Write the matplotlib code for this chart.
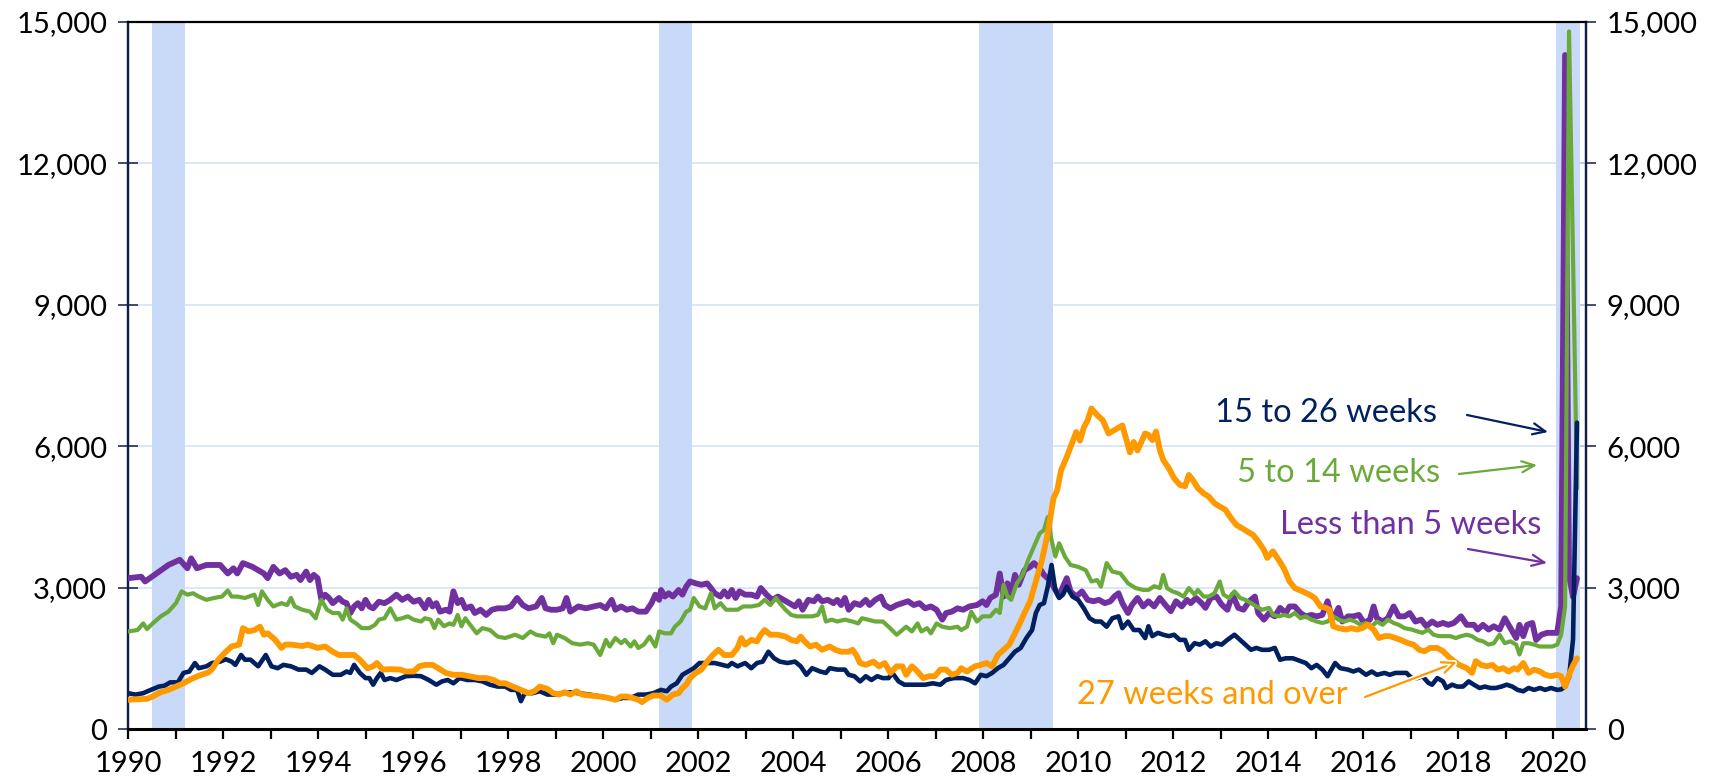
"""
Unemployed persons by duration of unemployment, 1990-2020 (thousands)
"""

import matplotlib
matplotlib.use("Agg")
import matplotlib.pyplot as plt
from matplotlib import patheffects

plt.rcParams["font.family"] = ["Lato", "DejaVu Sans"]

# (year, thousands)
less_than_5 = [
    (1990.0, 3200), (1990.28, 3230), (1990.36, 3130), (1990.6, 3300), (1990.85, 3480),
    (1991.09, 3590), (1991.25, 3410), (1991.33, 3620), (1991.45, 3410), (1991.65, 3480),
    (1991.94, 3480), (1992.1, 3300), (1992.22, 3410), (1992.3, 3300), (1992.42, 3520),
    (1992.62, 3440), (1992.86, 3300), (1992.94, 3200), (1993.06, 3440), (1993.19, 3300),
    (1993.31, 3370), (1993.43, 3230), (1993.55, 3270), (1993.63, 3160), (1993.75, 3340),
    (1993.83, 3160), (1993.91, 3270), (1993.99, 3200), (1994.07, 2740), (1994.15, 2850),
    (1994.23, 2780), (1994.31, 2670), (1994.44, 2780), (1994.52, 2700), (1994.6, 2670),
    (1994.68, 2460), (1994.76, 2600), (1994.84, 2670), (1994.92, 2560), (1995.0, 2740),
    (1995.08, 2600), (1995.16, 2560), (1995.28, 2700), (1995.4, 2670), (1995.52, 2740),
    (1995.65, 2850), (1995.77, 2740), (1995.89, 2810), (1996.01, 2700), (1996.13, 2740),
    (1996.25, 2560), (1996.33, 2740), (1996.41, 2600), (1996.49, 2670), (1996.57, 2490),
    (1996.69, 2530), (1996.77, 2490), (1996.85, 2920), (1996.94, 2670), (1997.02, 2740),
    (1997.1, 2560), (1997.22, 2600), (1997.3, 2460), (1997.42, 2530), (1997.54, 2420),
    (1997.66, 2530), (1997.78, 2560), (1997.94, 2560), (1998.06, 2600), (1998.19, 2780),
    (1998.31, 2630), (1998.43, 2560), (1998.59, 2600), (1998.71, 2780), (1998.79, 2560),
    (1998.91, 2530), (1999.03, 2530), (1999.15, 2560), (1999.23, 2780), (1999.31, 2490),
    (1999.48, 2600), (1999.64, 2560), (1999.8, 2600), (1999.94, 2630), (2000.06, 2560),
    (2000.18, 2740), (2000.26, 2530), (2000.38, 2600), (2000.5, 2530), (2000.62, 2560),
    (2000.74, 2490), (2000.9, 2490), (2001.02, 2670), (2001.1, 2850), (2001.18, 2740),
    (2001.22, 2950), (2001.3, 2810), (2001.38, 2880), (2001.47, 2810), (2001.59, 2950),
    (2001.67, 2850), (2001.75, 3020), (2001.83, 3130), (2001.95, 3090), (2002.07, 3060),
    (2002.19, 3090), (2002.27, 2990), (2002.35, 2880), (2002.47, 2810), (2002.55, 2920),
    (2002.63, 2810), (2002.71, 2950), (2002.79, 2780), (2002.87, 2920), (2002.99, 2850),
    (2003.12, 2850), (2003.24, 2810), (2003.32, 2990), (2003.44, 2850), (2003.56, 2740),
    (2003.68, 2810), (2003.8, 2740), (2003.92, 2670), (2004.04, 2600), (2004.12, 2710),
    (2004.2, 2530), (2004.32, 2740), (2004.44, 2710), (2004.52, 2810), (2004.61, 2710),
    (2004.73, 2740), (2004.85, 2670), (2004.93, 2740), (2005.01, 2630), (2005.09, 2780),
    (2005.17, 2530), (2005.29, 2670), (2005.41, 2630), (2005.53, 2740), (2005.61, 2630),
    (2005.73, 2740), (2005.85, 2810), (2005.93, 2630), (2006.05, 2560), (2006.18, 2630),
    (2006.3, 2670), (2006.42, 2710), (2006.54, 2630), (2006.66, 2670), (2006.78, 2560),
    (2006.9, 2600), (2007.02, 2530), (2007.14, 2320), (2007.22, 2460), (2007.34, 2490),
    (2007.46, 2560), (2007.58, 2530), (2007.71, 2600), (2007.87, 2630), (2007.99, 2710),
    (2008.07, 2630), (2008.15, 2780), (2008.27, 2850), (2008.35, 3300), (2008.43, 2810),
    (2008.51, 3090), (2008.59, 2880), (2008.67, 3270), (2008.75, 3060), (2008.87, 3370),
    (2008.99, 3440), (2009.07, 3520), (2009.19, 3410), (2009.28, 3270), (2009.4, 3160),
    (2009.52, 2950), (2009.6, 2810), (2009.68, 3020), (2009.76, 3200), (2009.84, 2920),
    (2009.96, 2810), (2010.08, 2920), (2010.2, 2740), (2010.32, 2710), (2010.44, 2740),
    (2010.56, 2670), (2010.68, 2710), (2010.76, 2810), (2010.85, 2880), (2010.93, 2670),
    (2011.05, 2460), (2011.13, 2630), (2011.25, 2780), (2011.37, 2600), (2011.48, 2710),
    (2011.6, 2600), (2011.72, 2780), (2011.83, 2640), (2011.95, 2500), (2012.06, 2710),
    (2012.18, 2600), (2012.29, 2740), (2012.37, 2670), (2012.48, 2780), (2012.6, 2670),
    (2012.68, 2570), (2012.79, 2780), (2012.91, 2810), (2013.02, 2640), (2013.14, 2530),
    (2013.25, 2850), (2013.37, 2570), (2013.48, 2530), (2013.6, 2710), (2013.72, 2810),
    (2013.79, 2460), (2013.91, 2320), (2014.02, 2460), (2014.14, 2390), (2014.25, 2570),
    (2014.37, 2460), (2014.45, 2600), (2014.56, 2600), (2014.68, 2460), (2014.79, 2390),
    (2014.91, 2420), (2015.02, 2390), (2015.14, 2420), (2015.25, 2710), (2015.33, 2390),
    (2015.41, 2420), (2015.48, 2570), (2015.56, 2280), (2015.68, 2390), (2015.79, 2390),
    (2015.91, 2420), (2016.02, 2250), (2016.14, 2320), (2016.22, 2600), (2016.29, 2350),
    (2016.41, 2280), (2016.52, 2350), (2016.64, 2600), (2016.75, 2390), (2016.87, 2390),
    (2016.98, 2460), (2017.1, 2280), (2017.22, 2320), (2017.33, 2180), (2017.45, 2280),
    (2017.56, 2210), (2017.68, 2250), (2017.79, 2210), (2017.91, 2250), (2018.06, 2390),
    (2018.18, 2210), (2018.33, 2210), (2018.41, 2110), (2018.52, 2210), (2018.64, 2110),
    (2018.75, 2180), (2018.87, 2110), (2018.98, 2350), (2019.1, 2140), (2019.22, 1930),
    (2019.29, 2210), (2019.37, 1970), (2019.45, 2210), (2019.56, 2250), (2019.64, 1890),
    (2019.75, 2000), (2019.87, 2040), (2019.98, 2040), (2020.083, 2040), (2020.167, 2600),
    (2020.25, 14300), (2020.333, 3250), (2020.417, 2800), (2020.5, 3200),
]

weeks_5_to_14 = [
    (1990.0, 2070), (1990.2, 2100), (1990.32, 2240), (1990.4, 2120), (1990.52, 2240),
    (1990.69, 2390), (1990.85, 2490), (1991.01, 2670), (1991.13, 2920), (1991.25, 2850),
    (1991.37, 2880), (1991.49, 2810), (1991.65, 2740), (1991.81, 2780), (1991.98, 2810),
    (1992.1, 2940), (1992.18, 2810), (1992.3, 2810), (1992.46, 2780), (1992.66, 2850),
    (1992.74, 2630), (1992.82, 2920), (1992.94, 2740), (1993.06, 2600), (1993.23, 2670),
    (1993.35, 2630), (1993.43, 2780), (1993.51, 2600), (1993.67, 2530), (1993.83, 2490),
    (1993.95, 2350), (1994.07, 2740), (1994.19, 2530), (1994.31, 2460), (1994.44, 2460),
    (1994.52, 2320), (1994.6, 2560), (1994.68, 2320), (1994.8, 2240), (1994.92, 2140),
    (1995.08, 2140), (1995.2, 2210), (1995.28, 2320), (1995.4, 2350), (1995.52, 2560),
    (1995.65, 2320), (1995.77, 2350), (1995.89, 2390), (1996.01, 2320), (1996.17, 2280),
    (1996.25, 2350), (1996.37, 2320), (1996.45, 2140), (1996.53, 2320), (1996.65, 2180),
    (1996.77, 2240), (1996.85, 2210), (1996.94, 2420), (1997.02, 2180), (1997.1, 2350),
    (1997.18, 2240), (1997.34, 2030), (1997.46, 2140), (1997.62, 2100), (1997.78, 1960),
    (1997.94, 1930), (1998.15, 2000), (1998.31, 1930), (1998.47, 2070), (1998.59, 2000),
    (1998.79, 1960), (1998.87, 2030), (1998.95, 1820), (1999.03, 2000), (1999.19, 1930),
    (1999.35, 1820), (1999.52, 1790), (1999.68, 1820), (1999.8, 1790), (1999.94, 1570),
    (2000.06, 1890), (2000.14, 1750), (2000.26, 1930), (2000.38, 1820), (2000.46, 1890),
    (2000.58, 1750), (2000.66, 1860), (2000.74, 1720), (2000.86, 1790), (2000.98, 1960),
    (2001.1, 1750), (2001.18, 2070), (2001.3, 2030), (2001.43, 2030), (2001.51, 2170),
    (2001.63, 2280), (2001.75, 2490), (2001.83, 2530), (2001.91, 2780), (2002.03, 2600),
    (2002.15, 2560), (2002.27, 2880), (2002.35, 2560), (2002.47, 2670), (2002.59, 2530),
    (2002.71, 2530), (2002.83, 2530), (2002.95, 2600), (2003.12, 2600), (2003.28, 2630),
    (2003.4, 2740), (2003.52, 2630), (2003.64, 2780), (2003.72, 2670), (2003.84, 2530),
    (2003.96, 2420), (2004.08, 2390), (2004.2, 2390), (2004.4, 2390), (2004.52, 2420),
    (2004.61, 2600), (2004.69, 2280), (2004.81, 2320), (2004.93, 2280), (2005.09, 2320),
    (2005.25, 2280), (2005.37, 2240), (2005.45, 2350), (2005.57, 2320), (2005.73, 2280),
    (2005.89, 2280), (2006.01, 2170), (2006.18, 2000), (2006.3, 2100), (2006.38, 2170),
    (2006.5, 2070), (2006.62, 2240), (2006.7, 2070), (2006.82, 2140), (2006.9, 2030),
    (2007.02, 2240), (2007.14, 2170), (2007.3, 2140), (2007.46, 2170), (2007.54, 2100),
    (2007.66, 2170), (2007.75, 2490), (2007.87, 2280), (2007.99, 2390), (2008.15, 2390),
    (2008.27, 2530), (2008.35, 2460), (2008.43, 3060), (2008.51, 2810), (2008.59, 2740),
    (2008.71, 3090), (2008.83, 3270), (2008.95, 3590), (2009.07, 3870), (2009.19, 4150),
    (2009.28, 4220), (2009.36, 4500), (2009.44, 4010), (2009.52, 3660), (2009.6, 3940),
    (2009.72, 3660), (2009.84, 3480), (2010.0, 3440), (2010.16, 3370), (2010.28, 3130),
    (2010.4, 3160), (2010.48, 3020), (2010.6, 3520), (2010.72, 3340), (2010.89, 3300),
    (2011.05, 3090), (2011.21, 2990), (2011.37, 2950), (2011.48, 2950), (2011.6, 3030),
    (2011.72, 2990), (2011.79, 3270), (2011.87, 2990), (2011.98, 2920), (2012.1, 2880),
    (2012.22, 2810), (2012.33, 2990), (2012.45, 2850), (2012.52, 2950), (2012.64, 2810),
    (2012.75, 2810), (2012.87, 2880), (2012.98, 3130), (2013.06, 2850), (2013.18, 2780),
    (2013.29, 2920), (2013.41, 2780), (2013.52, 2740), (2013.64, 2670), (2013.75, 2600),
    (2013.87, 2530), (2014.02, 2570), (2014.1, 2420), (2014.22, 2390), (2014.33, 2420),
    (2014.45, 2390), (2014.56, 2460), (2014.68, 2350), (2014.79, 2390), (2014.91, 2320),
    (2015.02, 2280), (2015.14, 2250), (2015.25, 2280), (2015.37, 2390), (2015.48, 2320),
    (2015.6, 2280), (2015.72, 2320), (2015.83, 2280), (2015.95, 2210), (2016.06, 2250),
    (2016.18, 2180), (2016.29, 2280), (2016.41, 2210), (2016.52, 2320), (2016.64, 2250),
    (2016.75, 2210), (2016.87, 2140), (2017.02, 2110), (2017.14, 2070), (2017.25, 2040),
    (2017.37, 2110), (2017.48, 2000), (2017.6, 1970), (2017.72, 1970), (2017.83, 1970),
    (2017.95, 1930), (2018.06, 1970), (2018.18, 2000), (2018.29, 1970), (2018.41, 1890),
    (2018.52, 1860), (2018.64, 1790), (2018.75, 1820), (2018.87, 2000), (2018.98, 1820),
    (2019.1, 1860), (2019.22, 1790), (2019.29, 1580), (2019.37, 1820), (2019.48, 1820),
    (2019.6, 1790), (2019.72, 1750), (2019.87, 1750), (2019.98, 1750), (2020.083, 1790),
    (2020.167, 2000), (2020.25, 2600), (2020.333, 14800), (2020.417, 10000), (2020.5, 5100),
]

weeks_15_to_26 = [
    (1990.0, 760), (1990.16, 730), (1990.32, 760), (1990.48, 830), (1990.65, 900),
    (1990.77, 920), (1990.89, 990), (1991.05, 990), (1991.17, 1190), (1991.29, 1220),
    (1991.41, 1400), (1991.49, 1290), (1991.65, 1330), (1991.77, 1400), (1991.94, 1430),
    (1992.06, 1480), (1992.18, 1430), (1992.26, 1360), (1992.38, 1570), (1992.46, 1470),
    (1992.58, 1470), (1992.74, 1330), (1992.9, 1570), (1993.02, 1330), (1993.15, 1290),
    (1993.27, 1360), (1993.43, 1330), (1993.59, 1260), (1993.75, 1260), (1993.87, 1190),
    (1994.03, 1330), (1994.15, 1260), (1994.31, 1150), (1994.48, 1150), (1994.6, 1220),
    (1994.68, 1190), (1994.76, 1360), (1994.88, 1190), (1995.0, 1080), (1995.08, 1080),
    (1995.16, 940), (1995.24, 1080), (1995.32, 1190), (1995.4, 1040), (1995.52, 1080),
    (1995.65, 1040), (1995.85, 1120), (1996.01, 1130), (1996.17, 1120), (1996.33, 1040),
    (1996.49, 940), (1996.61, 1010), (1996.73, 1040), (1996.85, 970), (1996.98, 1080),
    (1997.14, 1040), (1997.3, 1040), (1997.46, 1010), (1997.62, 940), (1997.78, 900),
    (1997.94, 900), (1998.06, 830), (1998.19, 830), (1998.27, 590), (1998.35, 760),
    (1998.51, 760), (1998.67, 800), (1998.83, 730), (1998.99, 730), (1999.15, 760),
    (1999.31, 780), (1999.48, 760), (1999.72, 730), (1999.94, 690), (2000.1, 660),
    (2000.26, 620), (2000.42, 660), (2000.58, 660), (2000.74, 730), (2000.9, 730),
    (2001.06, 760), (2001.22, 830), (2001.34, 800), (2001.43, 900), (2001.55, 970),
    (2001.67, 1150), (2001.79, 1220), (2001.91, 1290), (2002.03, 1400), (2002.19, 1400),
    (2002.35, 1400), (2002.51, 1360), (2002.63, 1330), (2002.71, 1400), (2002.83, 1330),
    (2002.99, 1400), (2003.12, 1290), (2003.24, 1400), (2003.36, 1430), (2003.48, 1640),
    (2003.6, 1500), (2003.72, 1430), (2003.88, 1400), (2004.04, 1430), (2004.16, 1330),
    (2004.28, 1150), (2004.4, 1290), (2004.57, 1220), (2004.69, 1190), (2004.77, 1290),
    (2004.93, 1260), (2005.09, 1260), (2005.17, 1150), (2005.29, 1120), (2005.41, 1010),
    (2005.53, 1120), (2005.65, 1040), (2005.77, 1120), (2005.89, 1080), (2006.01, 1080),
    (2006.09, 1190), (2006.22, 1010), (2006.34, 940), (2006.54, 940), (2006.78, 940),
    (2006.94, 970), (2007.1, 940), (2007.22, 1040), (2007.38, 1080), (2007.58, 1080),
    (2007.71, 1040), (2007.83, 970), (2007.95, 1150), (2008.07, 1120), (2008.19, 1190),
    (2008.31, 1290), (2008.43, 1360), (2008.55, 1500), (2008.67, 1640), (2008.79, 1720),
    (2008.91, 1930), (2009.03, 2100), (2009.11, 2460), (2009.19, 2630), (2009.28, 2670),
    (2009.36, 3020), (2009.44, 3480), (2009.52, 2950), (2009.6, 2780), (2009.68, 2850),
    (2009.76, 3020), (2009.88, 2810), (2010.0, 2740), (2010.12, 2560), (2010.24, 2350),
    (2010.36, 2280), (2010.48, 2280), (2010.6, 2170), (2010.72, 2350), (2010.85, 2390),
    (2010.93, 2140), (2011.05, 2280), (2011.17, 2100), (2011.29, 2100), (2011.41, 1930),
    (2011.48, 2180), (2011.56, 1970), (2011.68, 2040), (2011.79, 2000), (2011.91, 1970),
    (2012.02, 2000), (2012.14, 1890), (2012.25, 1890), (2012.33, 1680), (2012.45, 1820),
    (2012.56, 1790), (2012.68, 1860), (2012.79, 1750), (2012.91, 1820), (2013.02, 1790),
    (2013.14, 1890), (2013.29, 2000), (2013.41, 1890), (2013.52, 1790), (2013.64, 1680),
    (2013.75, 1720), (2013.87, 1680), (2014.02, 1680), (2014.14, 1720), (2014.25, 1470),
    (2014.37, 1500), (2014.52, 1500), (2014.68, 1440), (2014.79, 1400), (2014.91, 1290),
    (2015.02, 1360), (2015.14, 1260), (2015.25, 1120), (2015.33, 1260), (2015.41, 1400),
    (2015.52, 1290), (2015.68, 1260), (2015.79, 1220), (2015.91, 1260), (2016.06, 1150),
    (2016.18, 1220), (2016.29, 1150), (2016.45, 1190), (2016.56, 1150), (2016.68, 1190),
    (2016.79, 1190), (2016.91, 1190), (2017.02, 1080), (2017.14, 1080), (2017.25, 1120),
    (2017.37, 980), (2017.45, 940), (2017.56, 1080), (2017.68, 1010), (2017.75, 870),
    (2017.87, 940), (2017.98, 900), (2018.1, 900), (2018.22, 1010), (2018.33, 940),
    (2018.45, 870), (2018.56, 900), (2018.68, 870), (2018.79, 870), (2018.91, 900),
    (2019.02, 940), (2019.14, 900), (2019.25, 830), (2019.37, 800), (2019.48, 870),
    (2019.6, 830), (2019.72, 870), (2019.83, 830), (2019.95, 870), (2020.083, 830),
    (2020.167, 840), (2020.25, 900), (2020.333, 1100), (2020.417, 1900), (2020.5, 6500),
]

weeks_27_plus = [
    (1990.0, 620), (1990.2, 630), (1990.4, 640), (1990.52, 690), (1990.69, 780),
    (1990.85, 830), (1991.01, 900), (1991.17, 970), (1991.33, 1060), (1991.49, 1130),
    (1991.69, 1200), (1991.77, 1270), (1991.9, 1470), (1992.06, 1640), (1992.18, 1750),
    (1992.34, 1790), (1992.42, 2140), (1992.54, 2070), (1992.66, 2100), (1992.78, 2170),
    (1992.86, 2000), (1992.94, 2030), (1993.1, 1890), (1993.23, 1720), (1993.31, 1790),
    (1993.43, 1790), (1993.67, 1760), (1993.79, 1790), (1993.99, 1720), (1994.15, 1750),
    (1994.31, 1640), (1994.44, 1570), (1994.6, 1570), (1994.76, 1570), (1994.88, 1470),
    (1995.04, 1290), (1995.16, 1330), (1995.24, 1400), (1995.36, 1260), (1995.52, 1270),
    (1995.73, 1260), (1995.85, 1220), (1996.01, 1220), (1996.13, 1330), (1996.25, 1360),
    (1996.41, 1360), (1996.53, 1290), (1996.69, 1190), (1996.85, 1150), (1997.02, 1150),
    (1997.18, 1120), (1997.38, 1080), (1997.54, 1080), (1997.7, 1040), (1997.82, 970),
    (1997.94, 970), (1998.1, 900), (1998.27, 830), (1998.43, 760), (1998.55, 800),
    (1998.67, 900), (1998.83, 850), (1998.95, 760), (1999.07, 730), (1999.19, 780),
    (1999.31, 730), (1999.44, 800), (1999.56, 730), (1999.72, 710), (1999.94, 690),
    (2000.1, 660), (2000.26, 620), (2000.38, 690), (2000.5, 690), (2000.62, 660),
    (2000.74, 620), (2000.82, 570), (2000.94, 660), (2001.06, 710), (2001.22, 710),
    (2001.34, 620), (2001.47, 730), (2001.59, 760), (2001.67, 870), (2001.75, 940),
    (2001.83, 1080), (2001.95, 1190), (2002.07, 1260), (2002.19, 1430), (2002.31, 1570),
    (2002.43, 1680), (2002.55, 1570), (2002.71, 1570), (2002.83, 1720), (2002.91, 1930),
    (2002.99, 1790), (2003.12, 1890), (2003.24, 1860), (2003.32, 2000), (2003.4, 2100),
    (2003.52, 2000), (2003.68, 2000), (2003.84, 1960), (2003.96, 1890), (2004.08, 1860),
    (2004.16, 1960), (2004.24, 1860), (2004.36, 1750), (2004.48, 1790), (2004.61, 1680),
    (2004.77, 1750), (2004.89, 1680), (2005.01, 1640), (2005.17, 1640), (2005.25, 1680),
    (2005.33, 1570), (2005.41, 1400), (2005.53, 1360), (2005.69, 1430), (2005.81, 1330),
    (2005.93, 1400), (2006.05, 1190), (2006.18, 1330), (2006.3, 1330), (2006.38, 1150),
    (2006.5, 1330), (2006.58, 1260), (2006.74, 1080), (2006.86, 1120), (2006.98, 1120),
    (2007.1, 1260), (2007.22, 1260), (2007.34, 1150), (2007.46, 1190), (2007.54, 1290),
    (2007.66, 1220), (2007.83, 1330), (2007.95, 1360), (2008.07, 1400), (2008.19, 1330),
    (2008.31, 1570), (2008.43, 1680), (2008.55, 1790), (2008.67, 2030), (2008.79, 2280),
    (2008.87, 2460), (2008.99, 2710), (2009.11, 3130), (2009.24, 3590), (2009.36, 4150),
    (2009.48, 4890), (2009.56, 5070), (2009.64, 5490), (2009.76, 5770), (2009.88, 6090),
    (2009.96, 6300), (2010.04, 6120), (2010.12, 6400), (2010.2, 6550), (2010.28, 6800),
    (2010.4, 6660), (2010.52, 6550), (2010.64, 6270), (2010.76, 6340), (2010.93, 6440),
    (2011.09, 5870), (2011.17, 6090), (2011.25, 5910), (2011.41, 6270), (2011.48, 6240),
    (2011.56, 6130), (2011.64, 6310), (2011.72, 5920), (2011.79, 5710), (2011.91, 5530),
    (2012.02, 5320), (2012.14, 5180), (2012.25, 5150), (2012.33, 5390), (2012.41, 5290),
    (2012.52, 5110), (2012.64, 5000), (2012.75, 4930), (2012.87, 4790), (2012.98, 4720),
    (2013.1, 4650), (2013.22, 4470), (2013.33, 4330), (2013.45, 4260), (2013.56, 4190),
    (2013.68, 4120), (2013.79, 3980), (2013.91, 3800), (2013.98, 3630), (2014.1, 3770),
    (2014.22, 3590), (2014.33, 3410), (2014.45, 3130), (2014.56, 2990), (2014.72, 2920),
    (2014.87, 2850), (2014.98, 2780), (2015.1, 2600), (2015.22, 2570), (2015.29, 2530),
    (2015.37, 2180), (2015.48, 2140), (2015.64, 2110), (2015.75, 2140), (2015.87, 2110),
    (2015.98, 2140), (2016.1, 2210), (2016.22, 2110), (2016.33, 1930), (2016.45, 1970),
    (2016.56, 1970), (2016.68, 1930), (2016.79, 1890), (2016.95, 1820), (2017.06, 1790),
    (2017.18, 1680), (2017.29, 1650), (2017.41, 1720), (2017.56, 1720), (2017.68, 1650),
    (2017.79, 1540), (2017.91, 1440), (2018.02, 1360), (2018.18, 1290), (2018.29, 1190),
    (2018.37, 1440), (2018.48, 1360), (2018.6, 1330), (2018.72, 1360), (2018.83, 1260),
    (2018.95, 1290), (2019.06, 1220), (2019.18, 1290), (2019.25, 1260), (2019.37, 1400),
    (2019.48, 1190), (2019.6, 1260), (2019.72, 1220), (2019.83, 1150), (2019.95, 1120),
    (2020.083, 1150), (2020.167, 1120), (2020.25, 900), (2020.333, 1150), (2020.417, 1350),
    (2020.5, 1500),
]

# NBER recessions (start, end) as decimal years
recessions = [(1990.5, 1991.2), (2001.17, 2001.87), (2007.92, 2009.47), (2020.06, 2020.57)]

series_labels = ["Less than 5 weeks", "5 to 14 weeks", "15 to 26 weeks", "27 weeks and over"]

NAVY = "#002060"
GREEN = "#6AAA3A"
PURPLE = "#7030A0"
ORANGE = "#FF9900"
BAND = "#C9DAF8"
GRID = "#D6E4FA"
AXIS = "#0E1E45"

W, H = 1723, 784
fig = plt.figure(figsize=(W / 100, H / 100), dpi=100)
ax = fig.add_axes([128 / W, 1 - 729 / H, (1586 - 128) / W, (729 - 22) / H])

x_lo, x_hi = 1990.0, 2020.69
ax.set_xlim(x_lo, x_hi)
ax.set_ylim(0, 15000)

for start, end in recessions:
    ax.axvspan(start, end, color=BAND, lw=0, zorder=1)

for y in (3000, 6000, 9000, 12000):
    ax.axhline(y, color=GRID, lw=1.2, zorder=0)

styles = [
    (less_than_5, PURPLE, 4.2, 3),
    (weeks_5_to_14, GREEN, 3.0, 4),
    (weeks_15_to_26, NAVY, 3.3, 5),
    (weeks_27_plus, ORANGE, 4.2, 6),
]
for data, color, lw, z in styles:
    xs = [p[0] for p in data]
    ys = [p[1] for p in data]
    ax.plot(xs, ys, color=color, lw=lw, zorder=z, solid_joinstyle="round",
            solid_capstyle="round")

# axes decoration
ax.set_xticks(range(1990, 2021))
ax.set_xticklabels([str(y) if y % 2 == 0 else "" for y in range(1990, 2021)])
ax.tick_params(axis="x", direction="out", length=7, width=1.6, color="black",
               labelsize=21, pad=9)
ax.set_yticks(range(0, 15001, 3000))
ax.set_yticklabels([f"{v:,}" for v in range(0, 15001, 3000)])
ax.tick_params(axis="y", direction="inout", length=14, width=1.1, color=AXIS,
               labelsize=21, pad=8)

ax2 = ax.twinx()
ax2.set_ylim(0, 15000)
ax2.set_yticks(range(0, 15001, 3000))
ax2.set_yticklabels([f"{v:,}" for v in range(0, 15001, 3000)])
ax2.tick_params(axis="y", direction="inout", length=14, width=1.1, color=AXIS,
                labelsize=21, pad=8)

ax.spines["bottom"].set_linewidth(2.2)
ax.spines["bottom"].set_color("black")
ax.spines["top"].set_linewidth(1.6)
ax.spines["top"].set_color("black")
for a in (ax, ax2):
    a.spines["left"].set_color(AXIS)
    a.spines["left"].set_linewidth(1.6)
    a.spines["right"].set_color(AXIS)
    a.spines["right"].set_linewidth(1.6)
ax2.spines["bottom"].set_visible(False)
ax2.spines["top"].set_visible(False)
ax.set_zorder(ax2.get_zorder() + 1)
ax.patch.set_visible(False)

# labels with arrows (figure pixel positions, origin bottom-left)
def px(x, y):
    return (x, H - y)

notes = [
    ("15 to 26 weeks", NAVY, px(1326, 413), px(1467, 415), px(1548, 432)),
    ("5 to 14 weeks", GREEN, px(1339, 473), px(1459, 474), px(1537, 465)),
    ("Less than 5 weeks", PURPLE, px(1411, 525), px(1468, 549), px(1547, 563)),
    ("27 weeks and over", ORANGE, px(1212, 695), px(1365, 697), px(1457, 662)),
]
for text, color, tpos, tail, head in notes:
    fig.text(tpos[0] / W, tpos[1] / H, text, color=color, fontsize=23.5,
             ha="center", va="center", zorder=10)
    arr = ax.annotate("", xy=head, xycoords="figure pixels", xytext=tail,
                      textcoords="figure pixels",
                      arrowprops=dict(arrowstyle="->,head_length=0.9,head_width=0.4",
                                      color=color, lw=1.6, shrinkA=0, shrinkB=0),
                      zorder=10, annotation_clip=False)
    if color == ORANGE:
        arr.arrow_patch.set_path_effects(
            [patheffects.withStroke(linewidth=4, foreground="white")])

fig.savefig("out.png", dpi=100)
